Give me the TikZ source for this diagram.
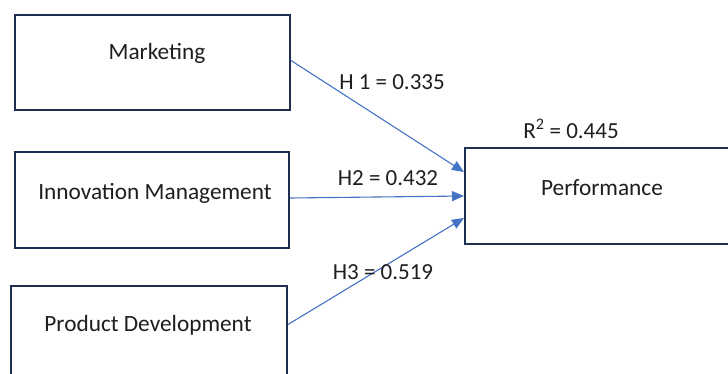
\documentclass[tikz,border=0pt]{standalone}
\usepackage{fontspec}
\setmainfont{Carlito}
\usepackage{xcolor}
\usepackage{tikz}
\usetikzlibrary{arrows.meta,positioning}

\definecolor{boxnavy}{RGB}{31,47,84}
\definecolor{pathblue}{RGB}{68,114,196}
\definecolor{inkgray}{RGB}{30,30,30}

\begin{document}
\begin{tikzpicture}[
    x=1pt, y=-1pt,
    construct/.style={rectangle, draw=boxnavy, line width=2pt, fill=white, minimum width=275pt, minimum height=95pt, inner sep=0pt},
    caption/.style={font=\fontsize{23.3}{26}\selectfont, text=inkgray, inner sep=0pt},
    coef/.style={font=\fontsize{23}{26}\selectfont, text=inkgray, inner sep=0pt},
    arrow/.style={-{Triangle[length=12pt,width=10pt]}, line width=1.1pt, draw=pathblue}
]
\useasboundingbox (0,0) rectangle (728,374);
\clip (0,0) rectangle (728,374);

% Nodes
\node[construct] (mkt) at (152.5,62.5) {};
\node[construct, minimum width=274pt] (innov) at (152,200) {};
\node[construct, minimum width=276pt] (prod) at (149,333.5) {};
\node[construct] (perf) at (602.5,196) {};

\node[caption] (mkt_text) at (157,53) {Marketing};
\node[caption] (innov_text) at (155,193) {Innovation Management};
\node[caption] (prod_text) at (148,325) {Product Development};
\node[caption] (perf_text) at (602,188) {Performance};
\node[coef] (rsq) at (571,129) {R\textsuperscript{2} = 0.445};

% Edges
\draw[arrow] ([yshift=2pt]mkt.east) -- ([yshift=24pt]perf.west);
\draw[arrow] ([yshift=2pt]innov.east) -- (perf.west);
\draw[arrow] ([yshift=9pt]prod.east) -- ([yshift=-22pt]perf.west);

\node[coef] (h1) at (392,82) {H 1 = 0.335};
\node[coef] (h2) at (388,178) {H2 = 0.432};
\node[coef] (h3) at (383,272) {H3 = 0.519};

\end{tikzpicture}
\end{document}
